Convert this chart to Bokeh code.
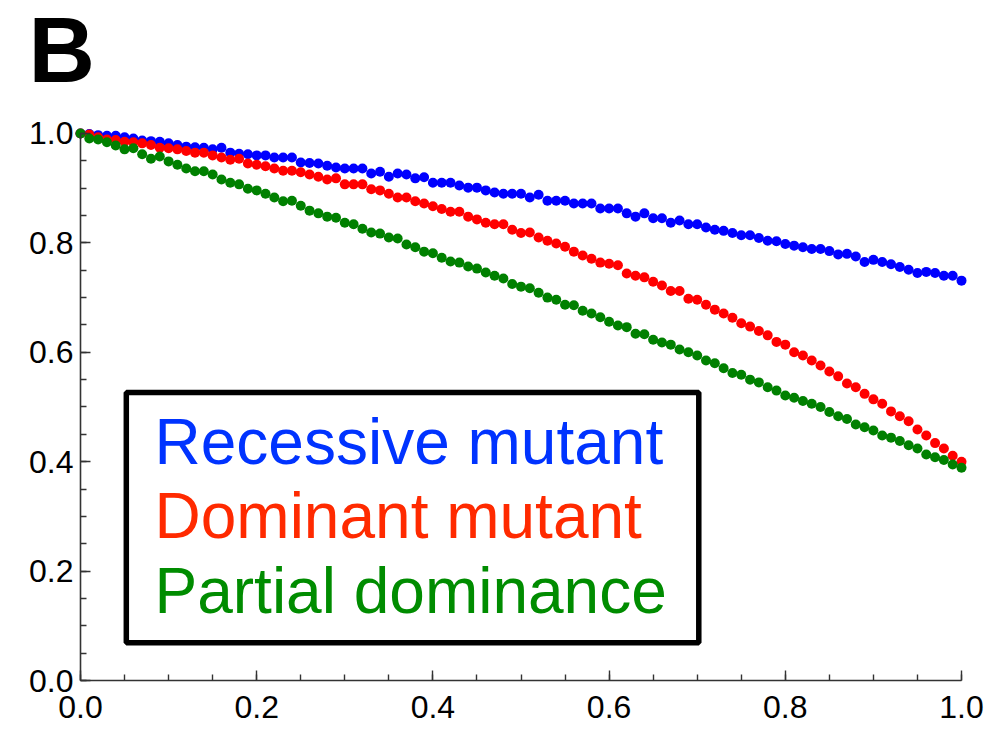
from bokeh.plotting import figure
from bokeh.models import (Range1d, SingleIntervalTicker, PrintfTickFormatter,
                          BoxAnnotation, Label, ColumnDataSource)
from bokeh.embed import file_html
from bokeh.resources import INLINE

x_values = [0.00, 0.01, 0.02, 0.03, 0.04, 0.05, 0.06, 0.07, 0.08, 0.09,
            0.10, 0.11, 0.12, 0.13, 0.14, 0.15, 0.16, 0.17, 0.18, 0.19,
            0.20, 0.21, 0.22, 0.23, 0.24, 0.25, 0.26, 0.27, 0.28, 0.29,
            0.30, 0.31, 0.32, 0.33, 0.34, 0.35, 0.36, 0.37, 0.38, 0.39,
            0.40, 0.41, 0.42, 0.43, 0.44, 0.45, 0.46, 0.47, 0.48, 0.49,
            0.50, 0.51, 0.52, 0.53, 0.54, 0.55, 0.56, 0.57, 0.58, 0.59,
            0.60, 0.61, 0.62, 0.63, 0.64, 0.65, 0.66, 0.67, 0.68, 0.69,
            0.70, 0.71, 0.72, 0.73, 0.74, 0.75, 0.76, 0.77, 0.78, 0.79,
            0.80, 0.81, 0.82, 0.83, 0.84, 0.85, 0.86, 0.87, 0.88, 0.89,
            0.90, 0.91, 0.92, 0.93, 0.94, 0.95, 0.96, 0.97, 0.98, 0.99,
            1.00]

recessive = [1.000, 0.999, 0.997, 0.996, 0.996, 0.993, 0.991, 0.987, 0.986, 0.985,
             0.982, 0.979, 0.976, 0.975, 0.974, 0.971, 0.974, 0.965, 0.963, 0.962,
             0.960, 0.960, 0.956, 0.956, 0.956, 0.947, 0.946, 0.945, 0.941, 0.938,
             0.936, 0.936, 0.936, 0.927, 0.930, 0.921, 0.927, 0.925, 0.918, 0.920,
             0.910, 0.910, 0.910, 0.905, 0.901, 0.901, 0.896, 0.892, 0.890, 0.890,
             0.890, 0.883, 0.888, 0.877, 0.877, 0.877, 0.872, 0.872, 0.872, 0.863,
             0.863, 0.863, 0.854, 0.848, 0.854, 0.845, 0.845, 0.837, 0.841, 0.834,
             0.834, 0.828, 0.824, 0.822, 0.818, 0.814, 0.814, 0.809, 0.804, 0.803,
             0.798, 0.795, 0.792, 0.789, 0.789, 0.785, 0.779, 0.780, 0.775, 0.765,
             0.769, 0.765, 0.761, 0.756, 0.751, 0.745, 0.747, 0.745, 0.740, 0.740,
             0.731]

dominant = [1.000, 0.998, 0.993, 0.989, 0.988, 0.985, 0.984, 0.982, 0.979, 0.974,
            0.973, 0.971, 0.968, 0.965, 0.965, 0.960, 0.956, 0.952, 0.954, 0.945,
            0.943, 0.940, 0.936, 0.932, 0.932, 0.929, 0.925, 0.921, 0.916, 0.918,
            0.907, 0.907, 0.907, 0.898, 0.896, 0.890, 0.883, 0.883, 0.876, 0.872,
            0.867, 0.862, 0.857, 0.857, 0.848, 0.843, 0.837, 0.834, 0.834, 0.824,
            0.818, 0.819, 0.810, 0.804, 0.799, 0.793, 0.784, 0.777, 0.771, 0.764,
            0.762, 0.759, 0.744, 0.740, 0.737, 0.729, 0.722, 0.712, 0.712, 0.698,
            0.696, 0.687, 0.678, 0.671, 0.663, 0.653, 0.647, 0.639, 0.631, 0.619,
            0.614, 0.600, 0.594, 0.585, 0.576, 0.565, 0.556, 0.543, 0.536, 0.524,
            0.514, 0.506, 0.492, 0.483, 0.474, 0.459, 0.448, 0.434, 0.424, 0.411,
            0.400]

partial = [1.000, 0.991, 0.989, 0.984, 0.978, 0.971, 0.973, 0.962, 0.954, 0.958,
           0.949, 0.943, 0.936, 0.931, 0.931, 0.925, 0.916, 0.910, 0.907, 0.899,
           0.896, 0.890, 0.883, 0.876, 0.877, 0.868, 0.859, 0.854, 0.848, 0.846,
           0.837, 0.834, 0.826, 0.819, 0.817, 0.810, 0.808, 0.797, 0.792, 0.784,
           0.781, 0.773, 0.766, 0.764, 0.757, 0.753, 0.746, 0.740, 0.735, 0.725,
           0.720, 0.717, 0.709, 0.700, 0.696, 0.687, 0.686, 0.676, 0.671, 0.664,
           0.656, 0.649, 0.646, 0.634, 0.633, 0.623, 0.618, 0.614, 0.605, 0.600,
           0.594, 0.585, 0.580, 0.571, 0.562, 0.559, 0.550, 0.545, 0.536, 0.530,
           0.521, 0.517, 0.511, 0.506, 0.500, 0.491, 0.483, 0.478, 0.468, 0.463,
           0.457, 0.448, 0.444, 0.438, 0.430, 0.424, 0.413, 0.408, 0.403, 0.395,
           0.389]

series_names = ["Recessive mutant", "Dominant mutant", "Partial dominance"]
dot_colors = ["#0000ff", "#ff0000", "#008000"]
text_colors = ["#0033ff", "#ff2a00", "#008c00"]
panel_label = "B"

FONT = "Liberation Sans"

# frame covers the whole canvas; axes are pinned at x=0 / y=0
p = figure(width=993, height=732, output_backend="svg", toolbar_location=None,
           x_range=Range1d(-0.090806, 1.036322),
           y_range=Range1d(-0.095064, 1.243144),
           min_border=0)
p.background_fill_color = "white"
p.border_fill_color = "white"
p.outline_line_color = None
p.grid.visible = False

for vals, col in zip([recessive, dominant, partial], dot_colors):
    src = ColumnDataSource(dict(x=x_values, y=vals))
    p.scatter("x", "y", source=src, size=10, color=col, line_color=None)

for ax in (p.xaxis[0], p.yaxis[0]):
    ax.fixed_location = 0
    ax.ticker = SingleIntervalTicker(interval=0.2, num_minor_ticks=4)
    ax.formatter = PrintfTickFormatter(format="%.1f")
    ax.bounds = (0, 1)
    ax.axis_line_color = "#333333"
    ax.axis_line_width = 1.6
    ax.major_tick_line_color = "#333333"
    ax.minor_tick_line_color = "#333333"
    ax.major_tick_line_width = 1.4
    ax.minor_tick_line_width = 1.4
    ax.major_tick_in = 10
    ax.major_tick_out = 0
    ax.minor_tick_in = 6
    ax.minor_tick_out = 0
    ax.major_label_text_font = FONT
    ax.major_label_text_font_size = "32px"
    ax.major_label_text_color = "black"

p.xaxis.major_label_standoff = 15
p.yaxis.major_label_standoff = 7

# legend box
box = BoxAnnotation(left=0.052, right=0.7018, top=0.5265, bottom=0.0689,
                    fill_color="white", fill_alpha=1.0,
                    line_color="black", line_alpha=1.0, line_width=5.5)
p.add_layout(box)

ys = [0.4369, 0.3016, 0.1645]
for name, col, yy in zip(series_names, text_colors, ys):
    p.add_layout(Label(x=0.0840, y=yy, text=name, text_color=col,
                       text_font=FONT, text_font_size="64px",
                       text_baseline="alphabetic", text_align="left"))

p.add_layout(Label(x=-0.0590, y=1.1527, text=panel_label, text_color="black",
                   text_font=FONT, text_font_size="92px", text_font_style="bold",
                   text_baseline="alphabetic", text_align="left"))

open("out.html", "w").write(file_html(p, INLINE))
